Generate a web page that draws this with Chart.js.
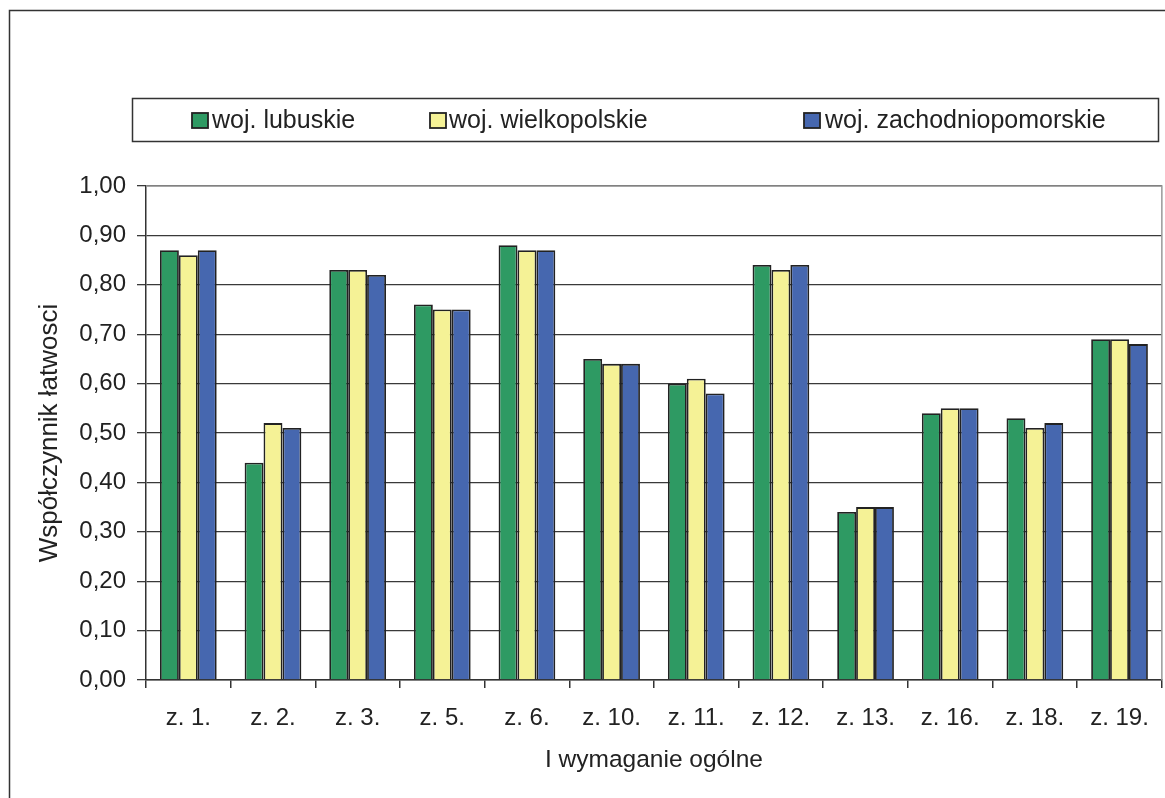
<!DOCTYPE html>
<html>
<head>
<meta charset="utf-8">
<script src="https://cdn.jsdelivr.net/npm/chart.js@4/dist/chart.umd.min.js"></script>
<style>
  html, body { margin: 0; padding: 0; background: #fff; }
  #wrap { width: 1165px; height: 798px; position: relative; }
</style>
</head>
<body>
<div id="wrap"><canvas id="c" width="1165" height="798"></canvas></div>
<script>
const categories = ['z. 1.', 'z. 2.', 'z. 3.', 'z. 5.', 'z. 6.', 'z. 10.', 'z. 11.', 'z. 12.', 'z. 13.', 'z. 16.', 'z. 18.', 'z. 19.'];
const seriesNames = ['woj. lubuskie', 'woj. wielkopolskie', 'woj. zachodniopomorskie'];
const lubuskie = [0.87, 0.44, 0.83, 0.76, 0.88, 0.65, 0.60, 0.84, 0.34, 0.54, 0.53, 0.69];
const wielkopolskie = [0.86, 0.52, 0.83, 0.75, 0.87, 0.64, 0.61, 0.83, 0.35, 0.55, 0.51, 0.69];
const zachodniopomorskie = [0.87, 0.51, 0.82, 0.75, 0.87, 0.64, 0.58, 0.84, 0.35, 0.55, 0.52, 0.68];
const yTitle = 'Współczynnik łatwosci';
const xTitle = 'I wymaganie ogólne';

const colors = ['#2E9A63', '#F5F296', '#4667AF'];
const FONT = "'Liberation Sans', Arial, sans-serif";
const TXT = '#222';

const framePlugin = {
  id: 'frame',
  beforeDraw(chart) {
    const ctx = chart.ctx;
    ctx.save();
    ctx.fillStyle = '#fff';
    ctx.fillRect(0, 0, chart.width, chart.height);
    ctx.strokeStyle = '#333';
    ctx.lineWidth = 1.5;
    ctx.beginPath();
    ctx.moveTo(9.5, chart.height + 5);
    ctx.lineTo(9.5, 10.5);
    ctx.lineTo(chart.width + 5, 10.5);
    ctx.stroke();
    ctx.restore();
  },
  afterDatasetsDraw(chart) {
    const ctx = chart.ctx;
    const a = chart.chartArea;
    ctx.save();
    ctx.strokeStyle = '#999';
    ctx.lineWidth = 1.5;
    ctx.beginPath();
    ctx.moveTo(a.left, a.top);
    ctx.lineTo(a.right, a.top);
    ctx.lineTo(a.right, a.bottom);
    ctx.stroke();
    ctx.restore();
  },
  afterDraw(chart) {
    const ctx = chart.ctx;
    ctx.save();
    // legend box
    ctx.strokeStyle = '#333';
    ctx.lineWidth = 1.5;
    ctx.strokeRect(132.5, 98.5, 1026, 43);
    const sq = [192, 430, 804];
    const tx = [212, 449, 825];
    ctx.font = '25px ' + FONT;
    ctx.textBaseline = 'middle';
    ctx.textAlign = 'left';
    chart.data.datasets.forEach((ds, i) => {
      ctx.fillStyle = ds.backgroundColor;
      ctx.fillRect(sq[i], 113, 16, 15);
      ctx.strokeStyle = '#222';
      ctx.lineWidth = 1.8;
      ctx.strokeRect(sq[i], 113, 16, 15);
      ctx.fillStyle = TXT;
      ctx.fillText(ds.label, tx[i], 121);
    });
    ctx.restore();
  }
};

new Chart(document.getElementById('c'), {
  type: 'bar',
  data: {
    labels: categories,
    datasets: [
      { label: seriesNames[0], data: lubuskie, backgroundColor: colors[0] },
      { label: seriesNames[1], data: wielkopolskie, backgroundColor: colors[1] },
      { label: seriesNames[2], data: zachodniopomorskie, backgroundColor: colors[2] }
    ].map(d => Object.assign(d, { borderColor: '#222', borderWidth: 1.8, categoryPercentage: 0.67, barPercentage: 1.0 }))
  },
  options: {
    responsive: false,
    animation: false,
    devicePixelRatio: 1,
    layout: { padding: { left: 0, right: 3, top: 186, bottom: 0 } },
    plugins: { legend: { display: false }, tooltip: { enabled: false } },
    scales: {
      x: {
        afterFit: s => { s.height = 118; },
        grid: { display: true, drawOnChartArea: false, offset: true, tickLength: 8, color: '#333', lineWidth: 1.5 },
        border: { display: true, color: '#333', width: 1.5 },
        ticks: { color: TXT, font: { family: FONT, size: 24 }, padding: 16, maxRotation: 0, autoSkip: false },
        title: { display: true, text: xTitle, color: TXT, font: { family: FONT, size: 24.5 }, padding: { top: 0, bottom: 23 } }
      },
      y: {
        min: 0, max: 1,
        afterFit: s => { s.width = 146; },
        grid: { color: '#3a3a3a', lineWidth: 1.3, tickLength: 9, drawTicks: true },
        border: { display: true, color: '#333', width: 1.5 },
        ticks: {
          stepSize: 0.1, color: TXT, padding: 11,
          font: { family: FONT, size: 24 },
          callback: v => Number(v).toFixed(2).replace('.', ',')
        },
        title: { display: true, text: yTitle, color: TXT, font: { family: FONT, size: 26 }, padding: { top: 34, bottom: 0 } }
      }
    }
  },
  plugins: [framePlugin]
});
</script>
</body>
</html>
